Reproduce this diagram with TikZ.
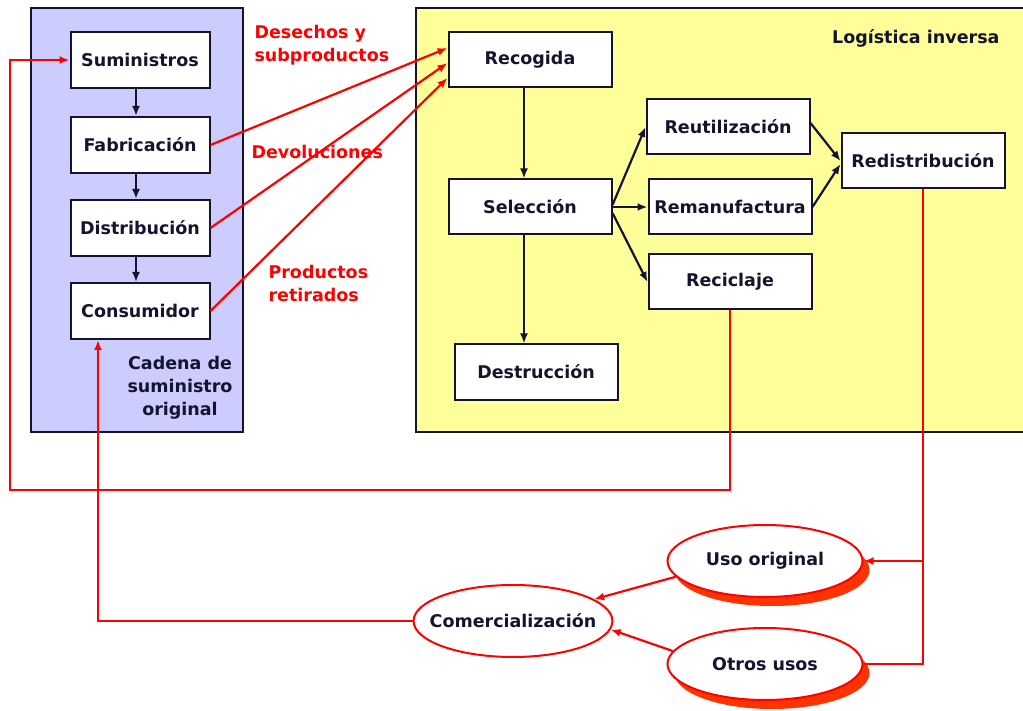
\documentclass[tikz,border=0pt]{standalone}
\usepackage{fontspec}
\setmainfont{DejaVu Sans}
\usetikzlibrary{arrows.meta,positioning,shapes.geometric,shadows,calc}
\definecolor{LIBlue}{HTML}{CCCCFF}
\definecolor{LIYellow}{HTML}{FFFF99}
\definecolor{LIRed}{HTML}{FF0000}
\definecolor{LIShade}{HTML}{FF3300}
\definecolor{LIInk}{HTML}{14142E}

\begin{document}
\begin{tikzpicture}[x=1pt,y=-1pt,font=\fontsize{17.5}{23}\selectfont\bfseries,
  line join=miter,
  stage/.style={draw=LIInk,line width=2pt,fill=white,text=LIInk,
    minimum width=139pt,minimum height=56pt,inner sep=0pt},
  rstage/.style={stage,minimum width=163pt,minimum height=55pt},
  market/.style={ellipse,draw=LIRed,line width=2pt,fill=white,text=LIInk,
    minimum width=195pt,minimum height=72pt,inner ysep=0pt,inner xsep=-13pt},
  shaded/.style={drop shadow={shadow xshift=7pt,shadow yshift=-9pt,
    fill=LIShade,opacity=1}},
  flow/.style={draw=LIInk,line width=2.2pt,-{Latex[length=10pt,width=8pt]}},
  back/.style={draw=LIRed,line width=2.2pt,-{Latex[length=10pt,width=8pt]}},
  backline/.style={draw=LIRed,line width=2.2pt},
  tag/.style={text=LIRed,align=left,anchor=west}]
  \path[use as bounding box] (0,0) rectangle (1023,711);

  % The two areas.
  \draw[fill=LIBlue,draw=LIInk,line width=1.6pt] (31,8) rectangle (243,432);
  \draw[fill=LIYellow,draw=LIInk,line width=1.6pt] (416,8) rectangle (1030,432);

  % Original supply chain.
  \node[stage] (sum) at (140,60) {Suministros};
  \node[stage] (fab) at (140,145) {Fabricación};
  \node[stage] (dis) at (140,228) {Distribución};
  \node[stage] (con) at (140,311) {Consumidor};
  \node[align=center,text=LIInk] (cadena) at (180,388)
    {Cadena de\\suministro\\original};

  \draw[flow] ([xshift=-4pt]sum.south) -- ([xshift=-4pt]fab.north);
  \draw[flow] ([xshift=-4pt]fab.south) -- ([xshift=-4pt]dis.north);
  \draw[flow] ([xshift=-4pt]dis.south) -- ([xshift=-4pt]con.north);

  % Reverse logistics.
  \node[anchor=east,text=LIInk] (titulo) at (1003,38) {Logística inversa};
  \node[rstage] (rec) at (530,60) {Recogida};
  \node[rstage] (sel) at (530,207) {Selección};
  \node[rstage] (des) at (536,372) {Destrucción};
  \node[rstage] (reu) at (728,127) {Reutilización};
  \node[rstage] (rem) at (730,207) {Remanufactura};
  \node[rstage] (rcl) at (730,282) {Reciclaje};
  \node[rstage] (red) at (923,161) {Redistribución};

  \draw[flow] ([xshift=-6pt]rec.south) -- ([xshift=-6pt]sel.north);
  \draw[flow] ([xshift=-6pt]sel.south) -- ([xshift=-6pt]sel.south |- des.north);
  \draw[flow] ([yshift=2pt]sel.east) -- (reu.west);
  \draw[flow] (sel.east) -- (rem.west);
  \draw[flow] ([yshift=-6pt]sel.east) -- (rcl.west);
  \draw[flow] ([yshift=4pt]reu.east) -- (red.west);
  \draw[flow] (rem.east) -- ([yshift=-3pt]red.west);

  % Return flows into collection.
  \node[tag] (desechos) at (251,45) {Desechos y\\subproductos};
  \node[tag] (devol) at (248,152) {Devoluciones};
  \node[tag] (retir) at (265,283) {Productos\\retirados};

  \draw[back] (fab.east) -- ([yshift=12pt]rec.west);
  \draw[back] (dis.east) -- ([yshift=-3pt]rec.west);
  \draw[back] (con.east) -- ([yshift=-18pt]rec.west);

  % Markets.
  \node[market] (com) at (513,621) {Comercialización};
  \node[market,shaded] (uso) at (765,561) {Uso original};
  \node[market,shaded] (otros) at (765,664) {Otros usos};

  \draw[back] (uso.190) -- (com.15);
  \draw[back] (otros.172) -- (com.-5);

  % Closing loops.
  \coordinate (lazo) at (10,490);
  \draw[back] (rcl.south) |- (lazo) |- (sum.west);
  \draw[backline] (red.south) |- (otros.east);
  \draw[back] (red.south |- uso.east) -- (uso.east);
  \draw[back] (com.west) -| ([xshift=-42pt]con.south);
\end{tikzpicture}
\end{document}
